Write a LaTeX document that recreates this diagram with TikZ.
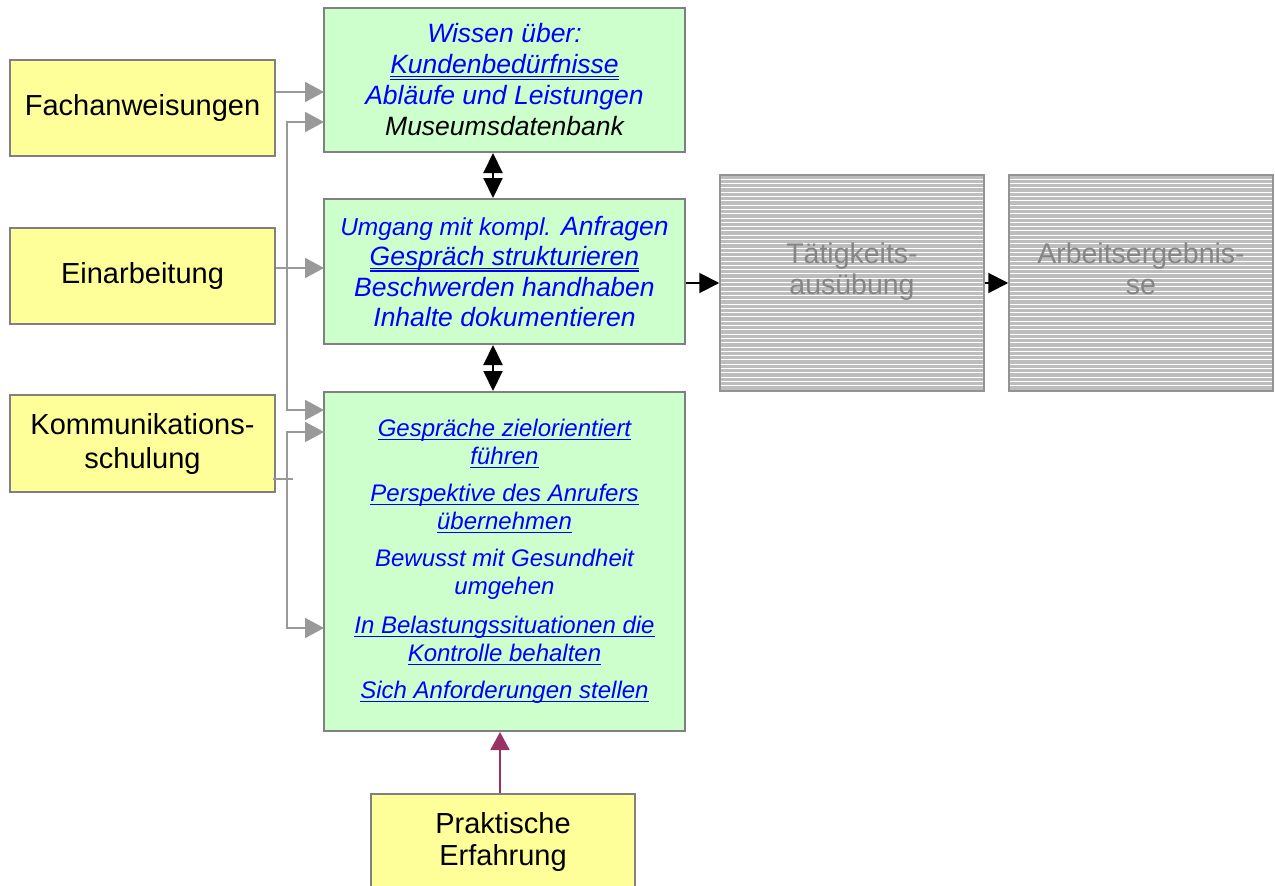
\documentclass[tikz,border=0pt]{standalone}
\usepackage{fontspec}
\setmainfont{Liberation Sans}
\usetikzlibrary{arrows.meta}% Triangle tips on the connectors

\definecolor{boxgreen}{HTML}{CCFFCC}
\definecolor{boxyellow}{HTML}{FFFF99}
\definecolor{frame}{HTML}{808080}
\definecolor{linkblue}{HTML}{0000FF}
\definecolor{feedgray}{HTML}{999999}
\definecolor{plum}{HTML}{993366}
\definecolor{stripegray}{HTML}{BDBDBD}
\definecolor{fadedtext}{HTML}{858585}

% underlined (link-like) lines of text, single and double
\newcommand{\lnk}[1]{\setbox0\hbox{#1}\rlap{\copy0}\rule[-3.6pt]{\wd0}{1.6pt}}
\newcommand{\dlnk}[1]{\setbox0\hbox{#1}\rlap{\copy0}\rlap{\rule[-3.4pt]{\wd0}{1.1pt}}\rule[-5.8pt]{\wd0}{1.1pt}}
% two lines set a little above the middle of the box (extra depth below)
\newcommand{\lifted}[2]{\raisebox{0pt}[\height][\dimexpr\depth+20pt\relax]{\begin{tabular}{@{}c@{}}#1\\#2\end{tabular}}}

\tikzset{
  box/.style={draw=frame, line width=2pt, inner sep=0pt, align=center},
  source/.style={box, fill=boxyellow, minimum width=265pt, minimum height=96pt,
    font=\fontsize{29pt}{34pt}\selectfont},
  skill/.style={box, fill=boxgreen, minimum width=361pt, text=linkblue},
  outcome/.style={draw=frame!85, line width=1.5pt, fill=stripegray, inner sep=0pt,
    minimum width=264pt, minimum height=216pt, align=center, text=fadedtext,
    font=\fontsize{28.5pt}{31pt}\selectfont,
    path picture={
      \foreach \k in {1,...,50}
        \draw[white, line width=1pt]
          ([yshift=-\k*4.3pt]path picture bounding box.north west) --
          ([yshift=-\k*4.3pt]path picture bounding box.north east);}},
  feed/.style={feedgray, line width=2pt, -{Triangle[length=19pt,width=20pt]}},
  flow/.style={black, line width=2pt, -{Triangle[length=20pt,width=20pt]}},
  both/.style={black, line width=2pt,
    {Triangle[length=20pt,width=19pt]}-{Triangle[length=20pt,width=19pt]}},
}

\begin{document}
\begin{tikzpicture}[x=1pt, y=-1pt]
  \useasboundingbox (0,0) rectangle (1275,886);

  % inputs
  \node[source] (fach) at (142.5,108) {Fachanweisungen};
  \node[source] (einarb) at (142.5,276) {Einarbeitung};
  \node[source, minimum height=97pt] (komm) at (142.5,443.5) {Kommunikations-\\schulung};
  \node[source, minimum width=264pt, font=\fontsize{29pt}{32pt}\selectfont] (praxis) at (503,842) {Praktische\\Erfahrung};

  % competences
  \node[skill, minimum height=144pt, font=\fontsize{26.5pt}{31pt}\selectfont\itshape] (wissen) at (504.5,80)
    {Wissen über:\\\dlnk{Kundenbedürfnisse}\\Abläufe und Leistungen\\{\color{black}Museumsdatenbank}};
  \node[skill, minimum height=145pt, font=\fontsize{26.5pt}{30.5pt}\selectfont\itshape] (umgang) at (504.5,271.5)
    {{\fontsize{24.5pt}{30.5pt}\selectfont Umgang mit kompl.} Anfragen\\\dlnk{Gespräch strukturieren}\\Beschwerden handhaben\\Inhalte dokumentieren};
  \node[skill, minimum height=339pt, font=\fontsize{24pt}{28pt}\selectfont\itshape] (verhalten) at (504.5,561.5)
    {\lnk{Gespräche zielorientiert}\\\lnk{führen}\\[9pt]
     \lnk{Perspektive des Anrufers}\\\lnk{übernehmen}\\[9pt]
     Bewusst mit Gesundheit\\umgehen\\[11pt]
     \lnk{In Belastungssituationen die}\\\lnk{Kontrolle behalten}\\[9pt]
     \lnk{Sich Anforderungen stellen}};

  % results
  \node[outcome] (taetig) at (852,283) {\lifted{Tätigkeits-}{ausübung}};
  \node[outcome] (ergebnis) at (1141,283) {\lifted{Arbeitsergebnis-}{se}};

  % arrow ends on the left of the green boxes
  \coordinate (a1) at (324,92);
  \coordinate (a2) at (324,122);
  \coordinate (a3) at (324,268);
  \coordinate (a4) at (324,410);
  \coordinate (a5) at (324,432);
  \coordinate (a6) at (324,628);
  \coordinate (ej) at (287,268);
  \coordinate (kj) at (287,479);
  \coordinate (pa) at (500,0);
  \coordinate (da) at (493,0);

  \draw[feed] (fach.east |- a1) -- (a1);
  \draw[feed] (einarb.east |- a3) -- (a3);
  \draw[feed] (ej) |- (a2);
  \draw[feed] (ej) |- (a4);
  \draw[feedgray, line width=2pt] (komm.east |- kj) ++(-3,0) -- ++(20,0);
  \draw[feed] (kj) |- (a5);
  \draw[feed] (kj) |- (a6);

  \draw[both] (wissen.south -| da) -- (umgang.north -| da);
  \draw[both] (umgang.south -| da) -- (verhalten.north -| da);

  \draw[flow] (umgang.east |- taetig.west) -- (taetig.west);
  \draw[flow] (taetig) -- (ergebnis);

  \draw[plum, line width=2pt, -{Triangle[length=18pt,width=19pt]}] (praxis.north -| pa) -- (verhalten.south -| pa);
\end{tikzpicture}
\end{document}
